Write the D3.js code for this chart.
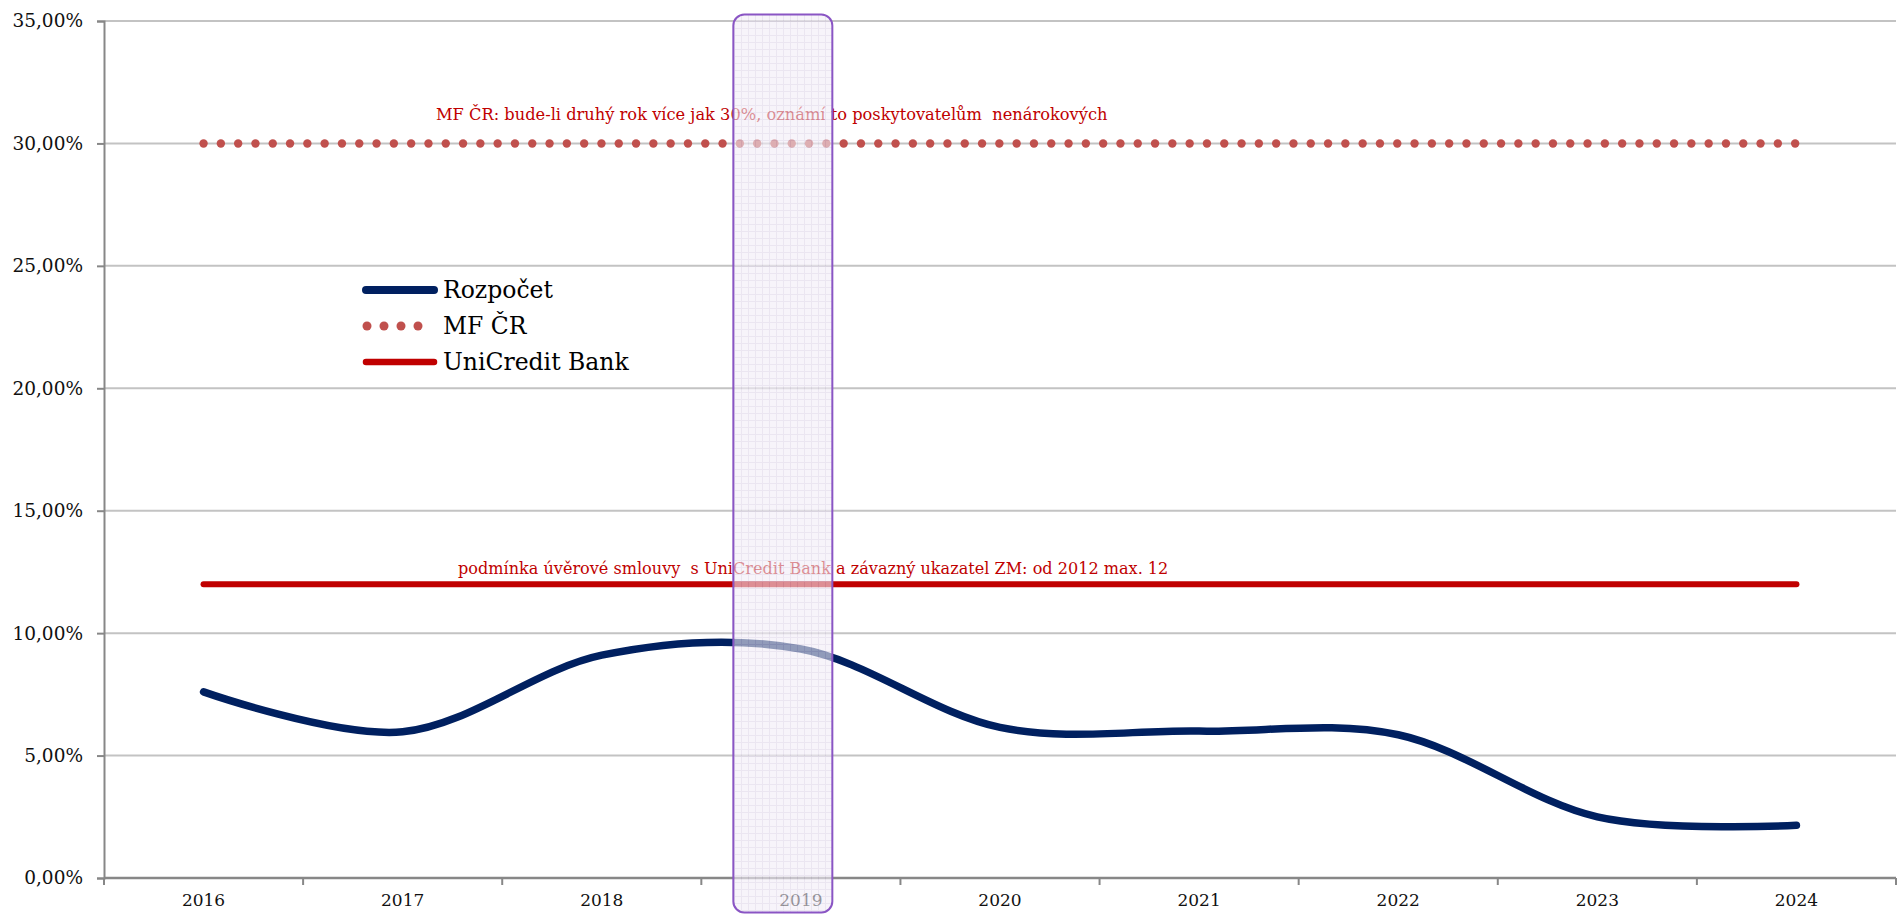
<!DOCTYPE html>
<html>
<head>
<meta charset="utf-8">
<script src="https://cdn.jsdelivr.net/npm/d3@7"></script>
<style>
    body { margin: 0; background: #fff; overflow: hidden; }
    svg { display: block; }
    svg text { font-family: Georgia, "DejaVu Serif", serif; }
</style>
</head>
<body>
<svg id="chart"></svg>
<script>
const years = ['2016', '2017', '2018', '2019', '2020', '2021', '2022', '2023', '2024'];
const rozpocet = [7.6, 5.97, 9.1, 9.35, 6.15, 6.0, 5.85, 2.5, 2.15];
const mfCr = [30, 30, 30, 30, 30, 30, 30, 30, 30];
const unicredit = [12, 12, 12, 12, 12, 12, 12, 12, 12];
const yTicks = [0, 5, 10, 15, 20, 25, 30, 35];
const highlightYear = '2019';
const noteMf = 'MF ČR: bude-li druhý rok více jak 30%, oznámí to poskytovatelům  nenárokových';
const noteUni = 'podmínka úvěrové smlouvy  s UniCredit Bank a závazný ukazatel ZM: od 2012 max. 12';

const outerWidth = 1901;
const outerHeight = 916;
const margin = { top: 21, left: 104, right: 5, bottom: 38 };
const innerWidth = outerWidth - margin.left - margin.right;
const innerHeight = outerHeight - margin.top - margin.bottom;

const svg = d3.select('#chart')
    .attr('width', outerWidth)
    .attr('height', outerHeight);

const defs = svg.append('defs');
const pattern = defs.append('pattern')
    .attr('id', 'grid')
    .attr('width', 7)
    .attr('height', 7)
    .attr('patternUnits', 'userSpaceOnUse');
pattern.append('rect')
    .attr('width', 7).attr('height', 7)
    .attr('fill', '#f1edf6');
pattern.append('path')
    .attr('d', 'M0,0.5H7M0.5,0V7')
    .attr('stroke', '#ddd5e8')
    .attr('stroke-width', 1);

const g = svg.append('g')
    .attr('transform', `translate(${margin.left},${margin.top})`);

const xScale = d3.scaleBand()
    .domain(years)
    .range([0, innerWidth]);

const yScale = d3.scaleLinear()
    .domain([0, 35])
    .range([innerHeight, 0]);

const cx = d => xScale(d) + xScale.bandwidth() / 2;

// fits a text to the width it has in the reference
const fitText = (sel, target) => {
    const len = sel.node().getComputedTextLength();
    const size = parseFloat(sel.style('font-size'));
    sel.style('font-size', `${size * target / len}px`);
};

// gridlines
g.selectAll('.grid')
    .data(yTicks.filter(d => d > 0))
    .join('line')
        .classed('grid', true)
        .attr('x1', 0)
        .attr('x2', innerWidth)
        .attr('y1', d => yScale(d))
        .attr('y2', d => yScale(d))
        .attr('stroke', '#c3c3c3')
        .attr('stroke-width', 2);

// y axis
const yAxis = d3.axisLeft(yScale)
    .tickValues(yTicks)
    .tickSize(7)
    .tickPadding(14)
    .tickFormat(d => d3.format('.2f')(d).replace('.', ',') + '%');

const yAxisG = g.append('g').call(yAxis);
yAxisG.select('.domain').attr('stroke', '#878787').attr('stroke-width', 2);
yAxisG.selectAll('.tick line').attr('stroke', '#878787').attr('stroke-width', 2);
yAxisG.selectAll('.tick text')
    .attr('fill', '#111')
    .style('font-size', '18.5px')
    .style('font-family', 'Georgia, "DejaVu Serif", serif');

// x axis, ticks between categories
const xAxisG = g.append('g')
    .attr('transform', `translate(0,${innerHeight})`);
xAxisG.append('line')
    .attr('x1', 0).attr('x2', innerWidth)
    .attr('stroke', '#878787').attr('stroke-width', 2.5);
xAxisG.selectAll('.xtick')
    .data(d3.range(years.length + 1))
    .join('line')
        .classed('xtick', true)
        .attr('x1', i => i * xScale.step())
        .attr('x2', i => i * xScale.step())
        .attr('y1', 0)
        .attr('y2', 7)
        .attr('stroke', '#878787')
        .attr('stroke-width', 2);
xAxisG.selectAll('.xlabel')
    .data(years)
    .join('text')
        .classed('xlabel', true)
        .attr('x', d => cx(d))
        .attr('y', 28)
        .attr('text-anchor', 'middle')
        .style('font-size', '17px')
        .attr('fill', '#111')
        .text(d => d);

// lines
const line = d3.line()
    .x((d, i) => cx(years[i]))
    .y(d => yScale(d));

g.append('path')
    .datum(unicredit)
    .attr('d', line)
    .attr('fill', 'none')
    .attr('stroke', '#c00000')
    .attr('stroke-width', 6)
    .attr('stroke-linecap', 'round');

const dotStep = 17.3;
g.selectAll('.mfdot')
    .data(d3.range(0, cx(years[years.length - 1]) - cx(years[0]) + 1, dotStep))
    .join('circle')
        .classed('mfdot', true)
        .attr('cx', d => cx(years[0]) + d)
        .attr('cy', yScale(mfCr[0]))
        .attr('r', 4.2)
        .attr('fill', '#c0504d');

g.append('path')
    .datum(rozpocet)
    .attr('d', line.curve(d3.curveCardinal.tension(0)))
    .attr('fill', 'none')
    .attr('stroke', '#002060')
    .attr('stroke-width', 7.5)
    .attr('stroke-linecap', 'round');

// annotations
const mfText = g.append('text')
    .attr('x', 436 - margin.left)
    .attr('y', yScale(30) - 23)
    .attr('fill', '#c00000')
    .style('font-size', '17px')
    .style('white-space', 'pre')
    .text(noteMf);
fitText(mfText, 672);

const uniText = g.append('text')
    .attr('x', 458 - margin.left)
    .attr('y', yScale(12) - 10)
    .attr('fill', '#c00000')
    .style('font-size', '17px')
    .style('white-space', 'pre')
    .text(noteUni);
fitText(uniText, 711);

// legend
const legendItems = [
    { name: 'Rozpočet', color: '#002060', type: 'line', width: 8 },
    { name: 'MF ČR', color: '#c0504d', type: 'dots' },
    { name: 'UniCredit Bank', color: '#c00000', type: 'line', width: 6.5 }
];
const legend = g.append('g')
    .attr('transform', `translate(${366 - margin.left},${290 - margin.top})`);
const item = legend.selectAll('.legend-item')
    .data(legendItems)
    .join('g')
        .classed('legend-item', true)
        .attr('transform', (d, i) => `translate(0,${i * 36})`);
item.filter(d => d.type === 'line')
    .append('line')
        .attr('x1', 0).attr('x2', 68)
        .attr('stroke', d => d.color)
        .attr('stroke-width', d => d.width)
        .attr('stroke-linecap', 'round');
item.filter(d => d.type === 'dots')
    .selectAll('circle')
    .data(d => d3.range(4).map(k => ({ k, color: d.color })))
    .join('circle')
        .attr('cx', d => 1 + d.k * 17)
        .attr('r', 4.5)
        .attr('fill', d => d.color);
item.append('text')
    .attr('x', 77)
    .attr('y', 8)
    .style('font-size', '23.5px')
    .attr('fill', '#000')
    .text(d => d.name);

// highlighted year
g.append('rect')
    .attr('x', xScale(highlightYear) + 32)
    .attr('y', -6.5)
    .attr('width', 99)
    .attr('height', innerHeight + 41)
    .attr('rx', 11)
    .attr('fill', 'url(#grid)')
    .attr('fill-opacity', 0.6)
    .attr('stroke', '#8a55c4')
    .attr('stroke-width', 2);
</script>
</body>
</html>
